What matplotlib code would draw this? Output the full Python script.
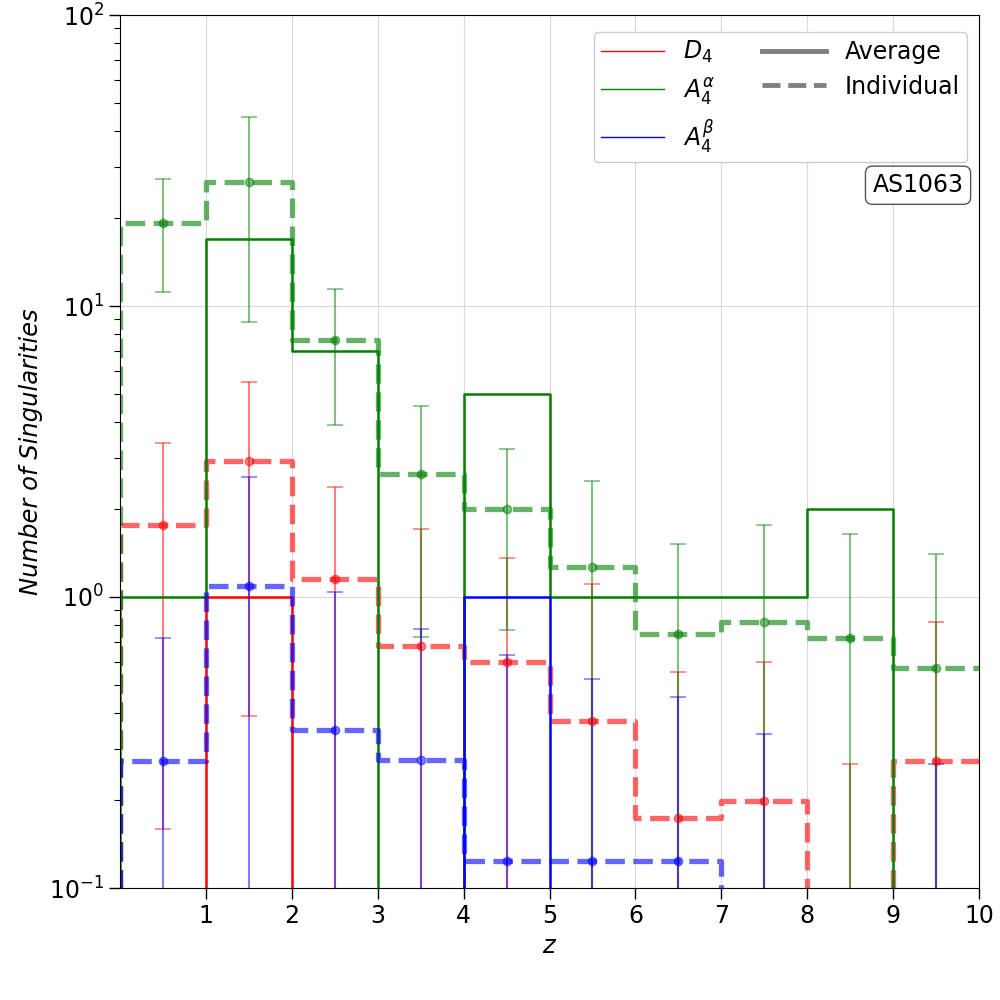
import numpy as np
import matplotlib
matplotlib.use('Agg')
import matplotlib.pyplot as plt
from matplotlib.lines import Line2D

edges = np.arange(0, 11)
centers = edges[:-1] + 0.5

# Average (solid) histograms
avg_D4 = [0, 1, 0, 0, 0, 0, 0, 0, 0, 0]
avg_A4a = [1, 17, 7, 0, 5, 1, 1, 1, 2, 0]
avg_A4b = [0, 0, 0, 0, 1, 0, 0, 0, 0, 0]

# Individual (dashed) histograms with std errors
ind_D4 = [1.77, 2.93, 1.15, 0.676, 0.598, 0.374, 0.1745, 0.199, 0, 0.274]
ind_D4_err = [1.61, 2.54, 1.23, 1.03, 0.767, 0.73, 0.38, 0.40, 0.267, 0.546]
ind_A4a = [19.3, 26.7, 7.66, 2.64, 2.0, 1.27, 0.748, 0.823, 0.725, 0.572]
ind_A4a_err = [8.1, 17.9, 3.77, 1.91, 1.23, 1.23, 0.77, 0.95, 0.925, 0.837]
ind_A4b = [0.274, 1.094, 0.35, 0.275, 0.124, 0.124, 0.124, 0, 0, 0]
ind_A4b_err = [0.447, 1.49, 0.69, 0.50, 0.508, 0.40, 0.33, 0.338, 0, 0.267]

labels = [r'$D_4$', r'$A_4^{\alpha}$', r'$A_4^{\beta}$']
colors = ['red', 'green', 'blue']
cluster = 'AS1063'
xticks = list(range(1, 11))


def step_xy(vals):
    vals = np.asarray(vals, dtype=float)
    xs = np.concatenate([[edges[0]], edges])
    ys = np.concatenate([[0.0], vals, [vals[-1]]])
    return xs, ys


fig, ax = plt.subplots(figsize=(10, 10), dpi=100)
fig.subplots_adjust(left=0.12, right=0.979, top=0.985, bottom=0.112)

ax.set_yscale('log')
ax.grid(True, which='major', color='#d9d9d9', lw=0.8, zorder=0)
ax.set_axisbelow(True)

avgs = [avg_D4, avg_A4a, avg_A4b]
inds = [ind_D4, ind_A4a, ind_A4b]
errs = [ind_D4_err, ind_A4a_err, ind_A4b_err]

for a, i, e, c in zip(avgs, inds, errs, colors):
    xs, ys = step_xy(a)
    ax.step(xs, ys, where='post', color=c, lw=1.8)
    xs, ys = step_xy(i)
    ax.step(xs, ys, where='post', color=c, lw=3.8, ls='--', alpha=0.6)
    ax.errorbar(centers, i, yerr=e, fmt='o', color=c, ms=6, capsize=6,
                elinewidth=1.5, capthick=1.2, alpha=0.5)

ax.set_xlim(0, 10)
ax.set_ylim(0.1, 100)
ax.set_xticks(xticks)
ax.tick_params(axis='both', which='major', labelsize=17, length=8, width=1)
ax.tick_params(axis='both', which='minor', length=4.5, width=0.8)
ax.set_xlabel(r'$z$', fontsize=17.5)
ax.set_ylabel('Number of Singularities', fontsize=17.5, style='italic')

handles = [Line2D([], [], color=c, lw=1) for c in colors]
handles += [Line2D([], [], color='grey', lw=3.5, ls='-'),
            Line2D([], [], color='grey', lw=3.5, ls='--')]
leg_labels = labels + ['Average', 'Individual']
ax.legend(handles, leg_labels, loc='upper right', bbox_to_anchor=(1, 0.994),
          ncol=2, fontsize=17, handlelength=2.7, framealpha=1,
          borderpad=0.3, labelspacing=0.45)

ax.text(0.982, 0.805, cluster, transform=ax.transAxes, ha='right', va='center',
        fontsize=17, bbox=dict(boxstyle='round,pad=0.3', fc='white', ec='#555555'))

fig.savefig('out.png', dpi=100)
